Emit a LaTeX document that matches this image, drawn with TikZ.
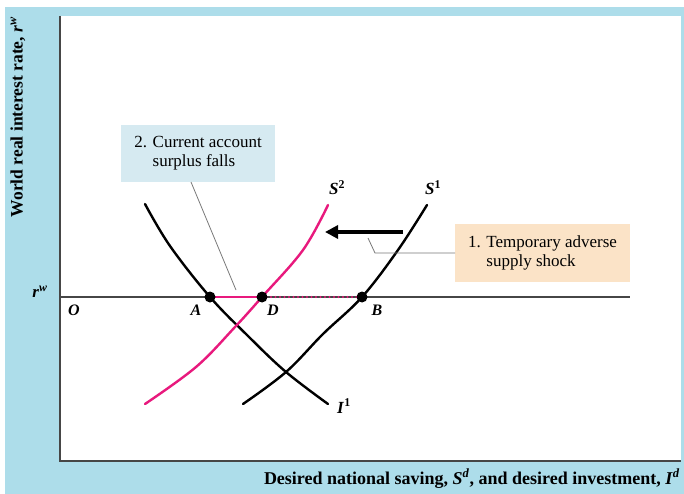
\documentclass[tikz,border=0pt]{standalone}
\usepackage{fontspec}
\setmainfont{Liberation Serif}
\usetikzlibrary{arrows.meta}
\definecolor{bgblue}{RGB}{173,221,234}
\definecolor{boxblue}{RGB}{214,234,241}
\definecolor{boxpeach}{RGB}{251,227,199}
\definecolor{curvepink}{RGB}{232,25,125}
\definecolor{axisgray}{RGB}{70,70,70}
\definecolor{calloutgray}{RGB}{120,120,120}
\tikzset{
  curve/.style={line width=2.4pt, line cap=round},
  pinkcurve/.style={curve, draw=curvepink},
  eqdot/.style={circle, fill=black, inner sep=0pt, minimum size=11pt},
  ptlabel/.style={font=\fontsize{16}{18}\selectfont\bfseries\itshape, inner sep=0pt},
  curvelabel/.style={font=\fontsize{17}{18}\selectfont\bfseries, inner sep=0pt},
  callout/.style={draw=calloutgray, line width=0.8pt},
  notebox/.style={align=left, inner sep=0pt,
    font=\fontsize{17}{19}\selectfont},
}
\begin{document}
\begin{tikzpicture}[x=1pt,y=-1pt]
\useasboundingbox (0,0) rectangle (684,494);
\fill[white] (0,0) rectangle (684,494);
\fill[bgblue] (5,7) rectangle (684,494);
\fill[white] (60,16) rectangle (681,461);
\draw[axisgray, line width=1.5pt] (60,16) -- (60,461) -- (681,461);

% points
\coordinate (Lstart) at (60,297);
\coordinate (Lend) at (630,297);
\draw[axisgray, line width=2pt] (Lstart) -- (Lend);

\coordinate (A) at (210,297);
\coordinate (D) at (262,297);
\coordinate (B) at (362,297);

% curves
\draw[curve] plot[smooth, tension=0.6] coordinates {(145,204) (170,246) (210,297) (248,336) (286,372) (328,404)};
\draw[curve] plot[smooth, tension=0.6] coordinates {(243,404) (286,372) (323,334) (362,297) (398,250) (427,205)};
\draw[pinkcurve] plot[smooth, tension=0.6] coordinates {(145,404) (196,367) (235,327) (262,297) (303,250) (328,205)};

\draw[curvepink, line width=2.2pt] (A) -- (D);
\draw[curvepink, line width=2.4pt, line cap=round, dash pattern=on 0pt off 4.5pt] (D) -- (B);

\node[eqdot] (dA) at (A) {};
\node[eqdot] (dD) at (D) {};
\node[eqdot] (dB) at (B) {};

% point labels
\node[ptlabel] (lO) at (74,310) {O};
\node[ptlabel] (lA) at (196,310) {A};
\node[ptlabel] (lD) at (273,310) {D};
\node[ptlabel] (lB) at (377,310) {B};
\node[curvelabel] (lrw) at (40,292) {\textit{r}\textsuperscript{\textit{w}}};

\node[curvelabel] (lS2) at (337,188) {\textit{S}\textsuperscript{2}};
\node[curvelabel] (lS1) at (433,188) {\textit{S}\textsuperscript{1}};
\node[curvelabel] (lI1) at (344,406) {\textit{I}\textsuperscript{1}};

% shift arrow
\coordinate (arrS) at (403,232);
\coordinate (arrE) at (325,232);
\draw[line width=3.5pt, -{Triangle[length=13pt,width=13pt]}] (arrS) -- (arrE);

% boxes
\fill[boxblue] (121,125) rectangle (275,182);
\node[notebox] (box2) at (198,153.5) {2. Current account\\\phantom{2. }surplus falls};
\fill[boxpeach] (455,224) rectangle (630,282);
\node[notebox] (box1) at (542.5,253) {1. Temporary adverse\\\phantom{1. }supply shock};

% callouts
\coordinate (c2a) at (191,182);
\coordinate (c2b) at (236,290);
\draw[callout] (c2a) -- (c2b);
\coordinate (c1a) at (368,238);
\coordinate (c1b) at (375,253);
\coordinate (c1c) at (455,253);
\draw[callout] (c1a) -- (c1b) -- (c1c);

% axis labels
\node[anchor=base east, inner sep=0pt, font=\fontsize{18}{20}\selectfont\bfseries] (xlab) at (680,484)
  {Desired national saving, \textit{S}\textsuperscript{\textit{d}}, and desired investment, \textit{I}\textsuperscript{\textit{d}}};
\node[rotate=90, inner sep=0pt, font=\fontsize{17.5}{20}\selectfont\bfseries] (ylab) at (18,117)
  {World real interest rate, \textit{r}\textsuperscript{\textit{w}}};
\end{tikzpicture}
\end{document}
